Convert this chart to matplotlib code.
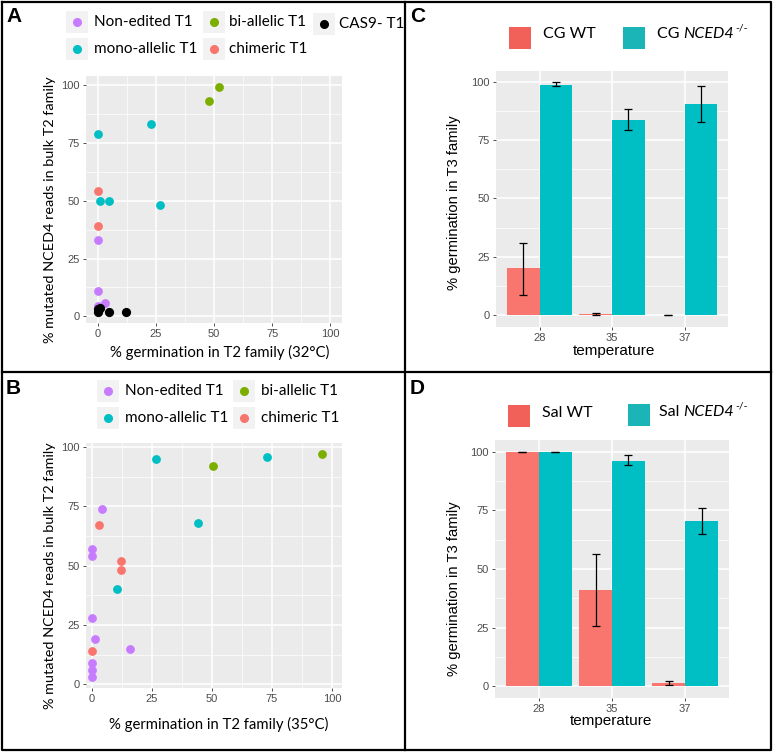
import matplotlib
matplotlib.use("Agg")
import matplotlib.pyplot as plt
import numpy as np
from matplotlib.patches import Rectangle
from matplotlib.lines import Line2D

# ---------------- DATA ----------------
# Panel A (32 C)
a_nonedited_x = [0, 0, 3, 0]
a_nonedited_y = [33, 11, 6, 4.5]
a_mono_x = [0, 23, 1, 5, 27]
a_mono_y = [79, 83, 50, 50, 48]
a_bi_x = [48, 52]
a_bi_y = [93, 99]
a_chim_x = [0, 0]
a_chim_y = [54, 39]
a_cas9_x = [0, 0, 1, 5, 12]
a_cas9_y = [2, 3, 3.5, 2, 2]

# Panel B (35 C)
b_nonedited_x = [4, 0, 0, 0, 1.4, 16, 0, 0, 0]
b_nonedited_y = [74, 57, 54, 28, 19, 15, 9, 6, 3]
b_mono_x = [26.6, 73, 44, 10.6]
b_mono_y = [95, 96, 68, 40]
b_bi_x = [50.6, 96]
b_bi_y = [92, 97]
b_chim_x = [2.8, 12, 12, 0]
b_chim_y = [67, 52, 48, 14]

# Panels C / D
temps = ["28", "35", "37"]
c_wt = [20.1, 0.4, 0.0]
c_wt_lo = [8.7, 0.0, 0.0]
c_wt_hi = [31.0, 1.1, 0.0]
c_mut = [98.7, 83.7, 90.3]
c_mut_lo = [97.9, 79.1, 82.7]
c_mut_hi = [99.6, 88.1, 98.0]

d_wt = [100.0, 41.1, 1.3]
d_wt_lo = [100.0, 25.7, 0.6]
d_wt_hi = [100.0, 56.5, 2.3]
d_mut = [100.0, 96.2, 70.4]
d_mut_lo = [100.0, 94.2, 64.9]
d_mut_hi = [100.0, 98.6, 76.0]

# ---------------- STYLE ----------------
PURPLE = "#C77CFF"
CYAN = "#00BFC4"
GREEN = "#7CAE00"
SALMON = "#F8766D"
BLACK = "#000000"
PANEL_BG = "#EBEBEB"
TICK_COL = "#4D4D4D"
CAL = "Lato"
ARI = "Liberation Sans"

W, H = 774, 753
fig = plt.figure(figsize=(W / 100, H / 100), dpi=100)


def px_ax(x0, y0, x1, y1):
    return fig.add_axes([x0 / W, 1 - y1 / H, (x1 - x0) / W, (y1 - y0) / H])


def fx(x):
    return x / W


def fy(y):
    return 1 - y / H


def gg_style(ax, xticks, yticks, xminor, yminor, xlabels=None):
    ax.set_facecolor(PANEL_BG)
    for s in ax.spines.values():
        s.set_visible(False)
    ax.set_xticks(xticks)
    ax.set_yticks(yticks)
    if xminor is not None:
        ax.set_xticks(xminor, minor=True)
    ax.set_yticks(yminor, minor=True)
    if xlabels is not None:
        ax.set_xticklabels(xlabels)
    ax.grid(which='major', color='white', lw=1.1, zorder=0)
    ax.grid(which='minor', color='white', lw=0.5, zorder=0)
    ax.set_axisbelow(True)
    ax.tick_params(which='major', length=2.5, width=0.6, color='#333333',
                   labelcolor=TICK_COL, labelsize=8, pad=2)
    ax.tick_params(which='minor', length=0)
    for lab in ax.get_xticklabels() + ax.get_yticklabels():
        lab.set_fontfamily(ARI)


# ---------------- PANEL A ----------------
axA = px_ax(86, 76, 342, 323)
ms = 40
axA.scatter(a_nonedited_x, a_nonedited_y, s=ms, color=PURPLE, zorder=3, lw=0)
axA.scatter(a_mono_x, a_mono_y, s=ms, color=CYAN, zorder=3, lw=0)
axA.scatter(a_bi_x, a_bi_y, s=ms, color=GREEN, zorder=3, lw=0)
axA.scatter(a_chim_x, a_chim_y, s=ms, color=SALMON, zorder=3, lw=0)
axA.scatter(a_cas9_x, a_cas9_y, s=ms * 1.1, color=BLACK, zorder=4, lw=0)
axA.set_xlim(-5, 105)
axA.set_ylim(-2.85, 103.85)
gg_style(axA, [0, 25, 50, 75, 100], [0, 25, 50, 75, 100],
         [12.5, 37.5, 62.5, 87.5], [12.5, 37.5, 62.5, 87.5])

# ---------------- PANEL B ----------------
axB = px_ax(86, 443, 342, 688)
axB.scatter(b_nonedited_x, b_nonedited_y, s=ms, color=PURPLE, zorder=3, lw=0)
axB.scatter(b_mono_x, b_mono_y, s=ms, color=CYAN, zorder=3, lw=0)
axB.scatter(b_bi_x, b_bi_y, s=ms, color=GREEN, zorder=3, lw=0)
axB.scatter(b_chim_x, b_chim_y, s=ms, color=SALMON, zorder=3, lw=0)
axB.set_xlim(-2.5, 104.2)
axB.set_ylim(-1.5, 101.7)
gg_style(axB, [0, 25, 50, 75, 100], [0, 25, 50, 75, 100],
         [12.5, 37.5, 62.5, 87.5], [12.5, 37.5, 62.5, 87.5])


# ---------------- BAR PANELS ----------------
def bar_panel(ax, wt, wlo, whi, mut, mlo, mhi, ylim):
    x = np.arange(len(temps))
    bw = 0.45
    ax.bar(x - bw / 2, wt, width=bw, color=SALMON, zorder=2)
    ax.bar(x + bw / 2, mut, width=bw, color=CYAN, zorder=2)
    wt_a = np.array(wt)
    mut_a = np.array(mut)
    ax.errorbar(x - bw / 2, wt_a, yerr=[wt_a - np.array(wlo), np.array(whi) - wt_a],
                fmt='none', ecolor='black', elinewidth=0.9, capsize=3.2, capthick=0.9, zorder=3)
    ax.errorbar(x + bw / 2, mut_a, yerr=[mut_a - np.array(mlo), np.array(mhi) - mut_a],
                fmt='none', ecolor='black', elinewidth=0.9, capsize=3.2, capthick=0.9, zorder=3)
    ax.set_xlim(-0.6, 2.6)
    ax.set_ylim(*ylim)
    gg_style(ax, x, [0, 25, 50, 75, 100], None, [12.5, 37.5, 62.5, 87.5], temps)


axC = px_ax(496, 71, 728, 327)
bar_panel(axC, c_wt, c_wt_lo, c_wt_hi, c_mut, c_mut_lo, c_mut_hi, (-5, 104.5))
axD = px_ax(495, 440, 729, 698)
bar_panel(axD, d_wt, d_wt_lo, d_wt_hi, d_mut, d_mut_lo, d_mut_hi, (-5, 105))

# ---------------- AXIS TITLES ----------------
fig.text(fx(220), fy(352), "% germination in T2 family (32°C)", family=CAL,
         fontsize=10.7, ha='center', va='center')
fig.text(fx(50), fy(210), "% mutated NCED4 reads in bulk T2 family", family=CAL,
         fontsize=10.4, ha='center', va='center', rotation=90)
fig.text(fx(219), fy(724), "% germination in T2 family (35°C)", family=CAL,
         fontsize=10.7, ha='center', va='center')
fig.text(fx(50), fy(576), "% mutated NCED4 reads in bulk T2 family", family=CAL,
         fontsize=10.4, ha='center', va='center', rotation=90)

fig.text(fx(454), fy(203), "% germination in T3 family", family=ARI,
         fontsize=10.6, ha='center', va='center', rotation=90)
fig.text(fx(614), fy(351), "temperature", family=ARI, fontsize=11,
         ha='center', va='center')
fig.text(fx(454), fy(589), "% germination in T3 family", family=ARI,
         fontsize=10.6, ha='center', va='center', rotation=90)
fig.text(fx(611), fy(721), "temperature", family=ARI, fontsize=11,
         ha='center', va='center')


# ---------------- LEGENDS ----------------
LEG_FS = 11


def key_dot(cx, cy, color, label, tx, size=5.5):
    fig.patches.append(Rectangle((fx(cx - 11), fy(cy + 11)), 22 / W, 22 / H,
                                 transform=fig.transFigure, facecolor='#F2F2F2',
                                 edgecolor='none', zorder=1))
    fig.lines.append(Line2D([fx(cx)], [fy(cy)], marker='o', markersize=size,
                            color=color, lw=0, transform=fig.transFigure, zorder=2))
    fig.text(fx(tx), fy(cy), label, family=CAL, fontsize=LEG_FS, ha='left', va='center')


key_dot(77, 22, PURPLE, "Non-edited T1", 94)
key_dot(77, 49, CYAN, "mono-allelic T1", 94)
key_dot(214, 22, GREEN, "bi-allelic T1", 229)
key_dot(214, 49, SALMON, "chimeric T1", 229)
key_dot(324, 24, BLACK, "CAS9- T1", 339)

key_dot(108, 391, PURPLE, "Non-edited T1", 125)
key_dot(108, 418, CYAN, "mono-allelic T1", 125)
key_dot(244, 391, GREEN, "bi-allelic T1", 261)
key_dot(244, 418, SALMON, "chimeric T1", 261)

renderer = fig.canvas.get_renderer()


def key_sq(x0, y0, color, label, tx, ty, ital=None):
    fig.patches.append(Rectangle((fx(x0), fy(y0 + 22)), 22 / W, 22 / H,
                                 transform=fig.transFigure, facecolor=color,
                                 edgecolor='none'))
    t = fig.text(fx(tx), fy(ty), label, family=CAL, fontsize=11.5, ha='left', va='center')
    if ital is not None:
        bb = t.get_window_extent(renderer)
        t2 = fig.text(bb.x1 / W, fy(ty), ital, family=CAL, style='italic',
                      fontsize=11.5, ha='left', va='center')
        bb2 = t2.get_window_extent(renderer)
        fig.text(bb2.x1 / W + 1 / W, fy(ty - 6), "-/-", family=CAL,
                 fontsize=7.5, ha='left', va='center')


key_sq(509, 27, "#F2605A", "CG WT", 543, 34)
key_sq(623, 27, "#1BB5B8", "CG ", 657, 34, "NCED4")
key_sq(508, 405, "#F2605A", "Sal WT", 542, 413)
key_sq(628, 404, "#1BB5B8", "Sal ", 659, 412, "NCED4")

# ---------------- PANEL LETTERS ----------------
for lab, x, y in [("A", 6, 16), ("B", 6, 388), ("C", 410, 17), ("D", 410, 389)]:
    fig.text(fx(x), fy(y), lab, family=ARI, fontweight='bold', fontsize=15,
             ha='left', va='center')

# ---------------- FRAME ----------------
frame_kw = dict(color='black', lw=1.6, transform=fig.transFigure)
fig.lines.append(Line2D([fx(2), fx(771), fx(771), fx(2), fx(2)],
                        [fy(2), fy(2), fy(750), fy(750), fy(2)], **frame_kw))
fig.lines.append(Line2D([fx(404.5), fx(404.5)], [fy(2), fy(750)], **frame_kw))
fig.lines.append(Line2D([fx(2), fx(771)], [fy(371.7), fy(371.7)], **frame_kw))

fig.savefig("out.png", dpi=100, facecolor='white')
